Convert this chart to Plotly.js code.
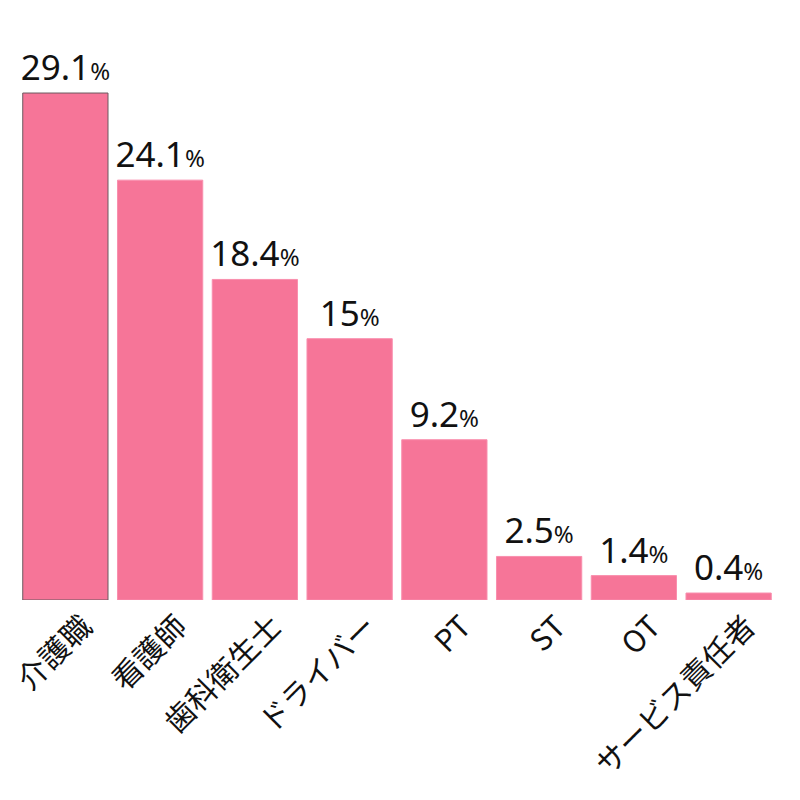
<!DOCTYPE html>
<html>
<head>
<meta charset="utf-8">
<script src="https://cdn.plot.ly/plotly-3.0.1.min.js"></script>
<style>html,body{margin:0;padding:0;background:#fff;}#chart{width:800px;height:800px;}</style>
</head>
<body>
<div id="chart"></div>
<script>
const categories = ["介護職", "看護師", "歯科衛生士", "ドライバー", "PT", "ST", "OT", "サービス責任者"];
const values = [29.1, 24.1, 18.4, 15, 9.2, 2.5, 1.4, 0.4];

const labels = values.map(v => String(v) + '<span style="font-size:24px">%</span>');
const lineColors = values.map((v, i) => i === 0 ? '#6b5a60' : '#f98fae');

const trace = {
  type: 'bar',
  x: categories,
  y: values,
  text: labels,
  textposition: 'outside',
  texttemplate: '%{text}',
  cliponaxis: false,
  constraintext: 'none',
  textfont: {family: 'Noto Sans, Open Sans, sans-serif', size: 35, color: '#111'},
  marker: {color: '#f67598', line: {color: lineColors, width: 1}},
  hoverinfo: 'none'
};

const layout = {
  width: 800, height: 800,
  margin: {l: 18, r: 24, t: 50, b: 200},
  paper_bgcolor: '#fff', plot_bgcolor: '#fff',
  showlegend: false,
  bargap: 0.1,
  xaxis: {
    tickangle: -45,
    ticklabelshift: 18,
    ticklabelstandoff: 2,
    tickfont: {family: 'Noto Sans CJK JP, Noto Sans, sans-serif', size: 30, color: '#111'},
    showgrid: false, zeroline: false, showline: false, ticks: ''
  },
  yaxis: {
    range: [0, 31.57],
    visible: false, showgrid: false, zeroline: false
  }
};

Plotly.newPlot('chart', [trace], layout, {displayModeBar: false, staticPlot: true});
</script>
</body>
</html>
